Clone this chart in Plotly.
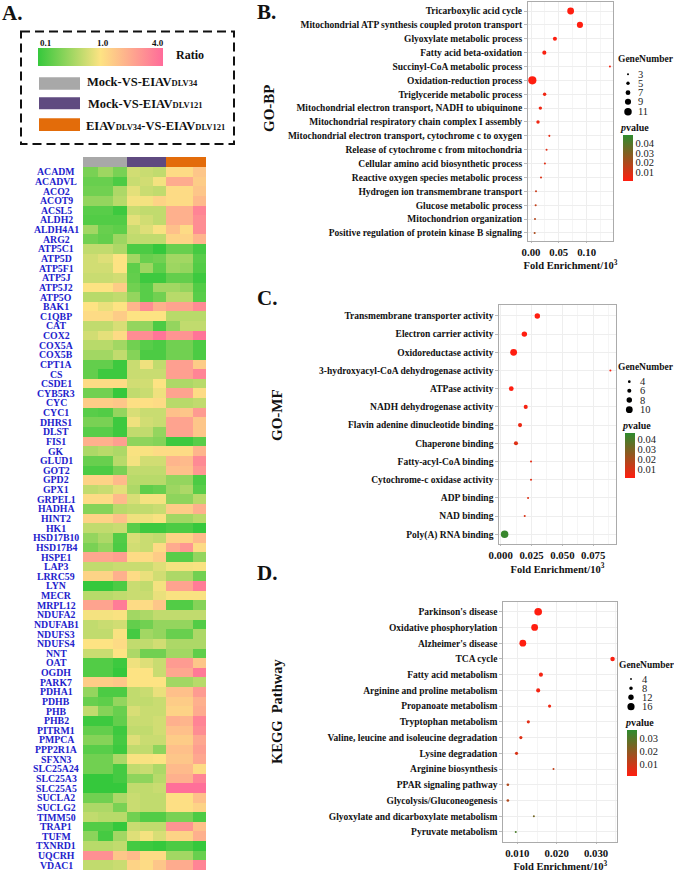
import math
import plotly.graph_objects as go

W, H = 674, 874
SERIF = "Liberation Serif"

# ---------- Panel A data ----------
genes = ["ACADM","ACADVL","ACO2","ACOT9","ACSL5","ALDH2","ALDH4A1","ARG2","ATP5C1","ATP5D","ATP5F1","ATP5J","ATP5J2","ATP5O","BAK1","C1QBP","CAT","COX2","COX5A","COX5B","CPT1A","CS","CSDE1","CYB5R3","CYC","CYC1","DHRS1","DLST","FIS1","GK","GLUD1","GOT2","GPD2","GPX1","GRPEL1","HADHA","HINT2","HK1","HSD17B10","HSD17B4","HSPE1","LAP3","LRRC59","LYN","MECR","MRPL12","NDUFA2","NDUFAB1","NDUFS3","NDUFS4","NNT","OAT","OGDH","PARK7","PDHA1","PDHB","PHB","PHB2","PITRM1","PMPCA","PPP2R1A","SFXN3","SLC25A24","SLC25A3","SLC25A5","SUCLA2","SUCLG2","TIMM50","TRAP1","TUFM","TXNRD1","UQCRH","VDAC1"]
ratios = [
[.22,.33,.22,.6,.55,.5,1.1,1.1,1.4],
[.18,.18,.13,.55,.6,.9,1.9,1.9,1.3],
[.2,.2,.4,.75,.55,.5,1.1,1.1,1.4],
[.3,.3,.45,.9,.9,1.2,1.1,1.1,1.6],
[.15,.15,.11,.55,.5,.5,1.8,1.8,3.0],
[.14,.14,.14,.75,.6,.5,1.8,1.8,2.7],
[.35,.18,.16,.55,.7,.95,1.5,1.1,2.7],
[.2,.17,.33,.5,.5,.5,1.2,1.2,1.7],
[.5,.5,.4,.13,.13,.1,.18,.18,.12],
[.6,.7,1.0,.35,.18,.2,.35,.35,.15],
[.6,.6,1.0,.16,.33,.16,.33,.3,.14],
[.55,.55,.6,.17,.11,.11,.17,.17,.11],
[1.0,1.0,1.3,.2,.15,.35,.35,.3,.14],
[.45,.45,.5,.3,.15,.2,.45,.45,.15],
[1.0,.8,1.0,1.7,2.7,1.8,2.1,2.1,2.8],
[1.1,1.1,1.3,1.0,1.0,1.0,.45,.45,.45],
[.5,.5,.65,.3,.3,.13,.3,.5,.5],
[.6,.75,1.1,2.7,2.7,3.6,2.5,2.5,3.6],
[.45,.45,.35,.2,.15,.13,.2,.2,.13],
[.35,.35,.5,.25,.13,.13,.2,.2,.13],
[.17,.17,.11,.55,.85,.5,2.2,2.2,1.3],
[.17,.11,.11,.55,.55,.55,2.2,2.2,3.0],
[1.1,1.1,1.1,.6,.6,1.0,.4,.4,.45],
[.2,.2,.1,.5,.55,.85,2.1,2.1,1.1],
[1.3,1.3,1.4,1.05,1.05,1.1,.45,.45,.5],
[.15,.14,.3,.65,.55,.55,1.5,1.4,2.3],
[.22,.22,.11,.85,.6,.55,2.1,2.1,1.4],
[.15,.15,.11,.5,.5,.3,2.1,2.1,1.4],
[1.8,1.8,2.2,.28,.28,.25,.11,.11,.15],
[.4,.45,.4,.95,.95,1.1,1.1,1.1,1.7],
[.18,.18,.45,.9,.6,.6,1.7,1.6,2.8],
[.13,.13,.22,.5,.5,.5,1.5,1.5,2.4],
[1.2,1.2,1.6,.45,.45,.45,.3,.3,.13],
[.5,.55,.75,.4,.16,.18,.33,.4,.15],
[1.1,1.1,1.6,.65,.9,.9,.28,.28,.45],
[.25,.25,.45,.5,.5,.55,1.3,1.3,1.8],
[1.2,1.2,1.5,.85,.85,.95,.35,.35,.45],
[.5,.5,.55,.15,.11,.11,.13,.13,.09],
[.3,.4,.14,.65,.55,.5,1.2,1.2,1.6],
[.22,.3,.13,.6,.55,1.1,1.9,2.4,1.1],
[2.0,2.0,2.2,1.1,1.1,1.3,.15,.15,.3],
[.5,.5,.55,.55,.55,.7,.9,.9,.95],
[1.2,1.2,1.8,1.1,.8,.6,.4,.4,.2],
[.1,.1,.13,.55,.5,.9,2.1,2.1,3.3],
[.45,.45,.5,.55,.55,.8,.95,.95,.95],
[2.1,2.1,3.3,1.1,1.1,1.4,.14,.14,.25],
[.9,.9,.95,.35,.4,.5,.5,.5,.5],
[.5,.55,.6,.17,.2,.3,.3,.3,.14],
[.5,.5,.95,.12,.35,.3,.18,.18,.4],
[1.0,1.0,1.1,.5,.5,.6,.4,.4,.4],
[.55,.55,1.0,.4,.2,.2,.35,.35,.16],
[.14,.14,.11,.85,.7,.55,2.3,2.3,1.4],
[.14,.14,.1,1.0,1.0,.55,2.0,2.0,3.4],
[1.3,1.3,1.4,1.0,1.0,1.0,.35,.35,.45],
[.3,.13,.13,.5,.55,.8,1.5,1.5,2.3],
[.18,.16,.3,.5,.5,.55,1.3,1.3,1.8],
[.5,.25,.18,.65,.55,.55,1.2,1.2,1.9],
[.11,.11,.17,.55,.55,.6,1.8,1.7,3.0],
[.17,.17,.11,.5,.5,.6,1.5,1.5,2.7],
[.25,.25,.12,.7,.55,.55,1.3,1.3,2.0],
[.15,.15,.11,.5,.5,.28,1.5,1.5,2.2],
[.2,.2,.4,.95,.95,1.0,1.4,1.4,2.0],
[.2,.2,.12,.5,.55,.4,1.6,1.6,1.1],
[.09,.09,.12,.28,.28,.45,1.8,1.8,3.0],
[.08,.08,.07,.5,.5,.55,3.8,3.8,3.8],
[.2,.2,.4,.55,.5,.5,1.05,1.05,1.5],
[.4,.4,.22,.55,.5,.5,1.05,1.05,1.2],
[.5,.45,.45,.2,.14,.14,.22,.22,.13],
[.14,.14,.09,.55,.5,.5,2.5,2.5,1.5],
[.27,.12,.35,.7,.9,.65,1.2,1.2,1.8],
[.45,.45,.5,.12,.11,.09,.13,.13,.09],
[2.6,2.6,1.4,1.6,1.1,1.1,.35,.35,.18],
[.5,.5,.55,1.2,1.1,1.4,1.9,1.9,3.0],
]
col_edges = [83, 98, 112.5, 127, 140, 153, 166, 179.5, 193, 206]
group_names = ["Mock-VS-EIAV[DLV34]", "Mock-VS-EIAV[DLV121]", "EIAV[DLV34]-VS-EIAV[DLV121]"]
ratio_ticks = ["0.1", "1.0", "4.0"]

# ---------- Panels B, C, D data ----------
bp_terms = ["Tricarboxylic acid cycle","Mitochondrial ATP synthesis coupled proton transport","Glyoxylate metabolic process","Fatty acid beta-oxidation","Succinyl-CoA metabolic process","Oxidation-reduction process","Triglyceride metabolic process","Mitochondrial electron transport, NADH to ubiquinone","Mitochondrial respiratory chain complex I assembly","Mitochondrial electron transport, cytochrome c to oxygen","Release of cytochrome c from mitochondria","Cellular amino acid biosynthetic process","Reactive oxygen species metabolic process","Hydrogen ion transmembrane transport","Glucose metabolic process","Mitochondrion organization","Positive regulation of protein kinase B signaling"]
bp_fold = [.0713,.088,.043,.024,.142,.0024,.0245,.0168,.0126,.033,.028,.025,.018,.009,.0084,.0072,.0066]
bp_genes = [10,9,6,6,3,12,5,5,5,3,3,3,3,3,3,3,3]
bp_p = [.0005,.0005,.001,.002,.003,.0005,.004,.004,.004,.006,.007,.008,.009,.013,.015,.018,.02]

mf_terms = ["Transmembrane transporter activity","Electron carrier activity","Oxidoreductase activity","3-hydroxyacyl-CoA dehydrogenase activity","ATPase activity","NADH dehydrogenase activity","Flavin adenine dinucleotide binding","Chaperone binding","Fatty-acyl-CoA binding","Cytochrome-c oxidase activity","ADP binding","NAD binding","Poly(A) RNA binding"]
mf_fold = [.0297,.0192,.0105,.0889,.0086,.0203,.0157,.0124,.0246,.0246,.0222,.0195,.0032]
mf_genes = [8,8,10,3,7,6,6,6,3,3,3,3,11]
mf_p = [.001,.001,.001,.003,.002,.004,.006,.009,.007,.008,.009,.01,.044]

kegg_terms = ["Parkinson's disease","Oxidative phosphorylation","Alzheimer's disease","TCA cycle","Fatty acid metabolism","Arginine and proline metabolism","Propanoate metabolism","Tryptophan metabolism","Valine, leucine and isoleucine degradation","Lysine degradation","Arginine biosynthesis","PPAR signaling pathway","Glycolysis/Gluconeogenesis","Glyoxylate and dicarboxylate metabolism","Pyruvate metabolism"]
kegg_fold = [.0153,.0144,.0114,.0342,.016,.0153,.0182,.0128,.0109,.0098,.0192,.0076,.0076,.0142,.0096]
kegg_genes = [17,15,15,10,9,9,7,7,7,7,3,6,6,3,4]
kegg_p = [.0005,.0005,.001,.002,.003,.003,.004,.006,.007,.008,.012,.015,.015,.025,.032]

# ---------- helpers ----------
def px(x): return x / W
def py(y): return 1 - y / H

def ratio_score(r):
    r = max(0.1, min(4.0, r))
    return math.log10(r) if r < 1 else math.log(r) / math.log(4)

def small_sub(s):
    return s.replace("[", '<span style="font-size:8.5px">').replace("]", "</span>")

annotations, shapes = [], []
def text(x, y, s, size, bold=True, anchor="left", color="#111111", angle=0):
    annotations.append(dict(
        x=px(x), y=py(y), xref="paper", yref="paper",
        text=f"<b>{s}</b>" if bold else s, showarrow=False, xanchor=anchor, yanchor="middle",
        font=dict(family=SERIF, size=size, color=color), textangle=angle))

def rect(x0, y0, x1, y1, color):
    shapes.append(dict(type="rect", xref="paper", yref="paper", x0=px(x0), x1=px(x1),
                       y0=py(y0), y1=py(y1), fillcolor=color, line=dict(width=0), layer="above"))

fig = go.Figure()

# ---------- Panel A ----------
HEAT_SCALE = [[0, "#35c83c"], [0.5, "#fde383"], [1, "#ff6b9a"]]
fig.add_trace(go.Heatmap(
    z=[[ratio_score(v) for v in row] for row in ratios], x=col_edges,
    y=list(range(len(genes))), xaxis="x", yaxis="y",
    zmin=-1, zmax=1, colorscale=HEAT_SCALE, xgap=0, ygap=0,
    colorbar=dict(orientation="h", x=px(38), xanchor="left", y=py(47.7), yanchor="top",
                  thickness=18.3, thicknessmode="pixels", len=125, lenmode="pixels",
                  xpad=0, ypad=0, outlinewidth=0, ticks="", showticklabels=False),
))
fig.update_layout(
    xaxis=dict(domain=[px(83), px(206)], range=[83, 206], visible=False, anchor="y"),
    yaxis=dict(domain=[py(870), py(167)], range=[len(genes) - 0.5, -0.5], visible=False, anchor="x"),
)
for i, g in enumerate(genes):
    annotations.append(dict(x=px(56.5), y=i, xref="paper", yref="y", text=f"<b>{g}</b>",
                            showarrow=False, xanchor="center", yanchor="middle",
                            font=dict(family=SERIF, size=9.8, color="#2222cc")))
for t, tx in zip(ratio_ticks, [46, 103, 158]):
    text(tx, 42.7, t, 9, anchor="center")

group_colors = ["#a8a8a8", "#5f4a80", "#e36c0a"]
for k, c in enumerate(group_colors):
    rect(col_edges[k * 3], 157, col_edges[k * 3 + 3], 167, c)

shapes.append(dict(type="rect", xref="paper", yref="paper", x0=px(21), x1=px(234), y0=py(31.5), y1=py(144),
                   line=dict(color="#111111", width=2, dash="9px,5px"), fillcolor="rgba(0,0,0,0)"))
swatch_y = [(77.3, 89.7), (97.3, 109.3), (118.3, 131)]
label_x = [85, 86, 84]
label_y = [81.7, 103.7, 126]
for k, c in enumerate(group_colors):
    rect(39, swatch_y[k][0], 80, swatch_y[k][1], c)
    text(label_x[k], label_y[k], small_sub(group_names[k]), 12.5)
text(174, 55, "Ratio", 12)
text(0, 13, "A.", 21)
text(255, 12, "B.", 21)
text(255, 298, "C.", 21)
text(255, 573, "D.", 21)

# ---------- Bubble panels ----------
P_SCALE = [[0, "#ff1e10"], [1, "#2e8b2e"]]
panels = [
    dict(terms=bp_terms, fold=bp_fold, genes=bp_genes, p=bp_p, ax="2", box=(528, 2, 613, 241),
         xr=[-0.0054, 0.1475], yr=[16.58, -0.65], tick=[0, .05, .10], fmt="{:.2f}", k=0.68, minor=0.025,
         cb=(623, 135, 181, .0005, .0488), title="GO-BP", tsize=15, tx=269, ty=108,
         legend=[3, 5, 7, 9, 11], lx=628, lty=[74.3, 83.3, 92.7, 101.7, 111.7], ltx=636,
         gn=(616, 59), pv=(618, 127)),
    dict(terms=mf_terms, fold=mf_fold, genes=mf_genes, p=mf_p, ax="3", box=(499.3, 305, 615.7, 544.3),
         xr=[-0.0011, 0.0932], yr=[12.55, -0.6], tick=[0, .025, .05, .075], fmt="{:.3f}", k=0.68, minor=0.0125,
         cb=(625, 433, 478.3, .0018, .0462), title="GO-MF", tsize=15, tx=277, ty=415,
         legend=[4, 6, 8, 10], lx=629.3, lty=[381.7, 390.7, 400, 409.7], ltx=638,
         gn=(616, 367), pv=(620, 425.3)),
    dict(terms=kegg_terms, fold=kegg_fold, genes=kegg_genes, p=kegg_p, ax="4", box=(503.3, 602.3, 617.3, 841.7),
         xr=[.00644, .0354], yr=[14.62, -0.6], tick=[.01, .02, .03], fmt="{:.3f}", k=0.45, minor=0.005,
         cb=(627, 730, 775.7, .0012, .0367), title="KEGG  Pathway", tsize=14.5, tx=277, ty=712,
         legend=[4, 8, 12, 16], lx=631, lty=[679, 688.3, 697.3, 706.7], ltx=640,
         gn=(617, 665), pv=(623, 722)),
]
GRID = "#eeeeee"
for P in panels:
    x0, y0, x1, y1 = P["box"]
    ax = P["ax"]
    cbx, cbt, cbb, cmin, cmax = P["cb"]
    fig.add_trace(go.Scatter(
        x=P["fold"], y=P["terms"], mode="markers", xaxis="x" + ax, yaxis="y" + ax,
        marker=dict(size=P["genes"], sizemode="diameter", sizeref=1 / P["k"], sizemin=1,
                    color=P["p"], colorscale=P_SCALE, cmin=cmin, cmax=cmax, line=dict(width=0), opacity=1,
                    colorbar=dict(x=px(cbx), xanchor="left", y=py(cbt), yanchor="top",
                                  thickness=9.5, thicknessmode="pixels", len=cbb - cbt, lenmode="pixels",
                                  outlinewidth=0, ticks="", tick0=0.01, dtick=0.01, tickformat=".2f",
                                  xpad=0, ypad=0,
                                  tickfont=dict(family=SERIF, size=10.5, color="#222222"))),
        showlegend=False))
    fig.update_layout({
        "xaxis" + ax: dict(domain=[px(x0), px(x1)], range=P["xr"], anchor="y" + ax,
                           tickmode="array", tickvals=P["tick"],
                           ticktext=["<b>" + P["fmt"].format(v) + "</b>" for v in P["tick"]],
                           showline=True, mirror=True,
                           linecolor="#ababab", linewidth=1, gridcolor=GRID, gridwidth=1, zeroline=False,
                           ticks="outside", ticklen=1, tickcolor="#bbbbbb",
                           minor=dict(dtick=P["minor"], tick0=0, showgrid=True, gridcolor="#f5f5f5", ticks=""),
                           tickfont=dict(family=SERIF, size=10.8, color="#111111"),
                           title=dict(text="<b>Fold Enrichment/10<sup>3</sup></b>", standoff=3,
                                      font=dict(family=SERIF, size=10.5, color="#111111"))),
        "yaxis" + ax: dict(domain=[py(y1), py(y0)], range=P["yr"], anchor="x" + ax, type="category",
                           categoryorder="array", categoryarray=P["terms"], showline=True, mirror=True,
                           linecolor="#ababab", linewidth=1, gridcolor=GRID, gridwidth=1, zeroline=False,
                           ticks="outside", ticklen=3, tickcolor="#bbbbbb",
                           tickprefix="<b>", ticksuffix="</b>",
                           tickfont=dict(family=SERIF, size=9.5, color="#111111")),
    })
    text(P["tx"], P["ty"], P["title"], P["tsize"], anchor="center", angle=-90)
    text(P["gn"][0], P["gn"][1], "GeneNumber", 9.5)
    text(P["pv"][0], P["pv"][1], "<i>p</i>value", 10)
    for n, ly in zip(P["legend"], P["lty"]):
        r = n * P["k"] / 2
        shapes.append(dict(type="circle", xref="paper", yref="paper",
                           x0=px(P["lx"] - r), x1=px(P["lx"] + r), y0=py(ly + r), y1=py(ly - r),
                           fillcolor="#000000", line=dict(width=0)))
        text(P["ltx"], ly, str(n), 10.5, bold=False, color="#222222")

fig.update_layout(width=W, height=H, margin=dict(l=0, r=0, t=0, b=0, autoexpand=False), autosize=False,
                  paper_bgcolor="white", plot_bgcolor="white", showlegend=False,
                  font=dict(family=SERIF), annotations=annotations, shapes=shapes)
fig.write_html("out.html", config=dict(displayModeBar=False), post_script="document.body.style.margin='0';")
